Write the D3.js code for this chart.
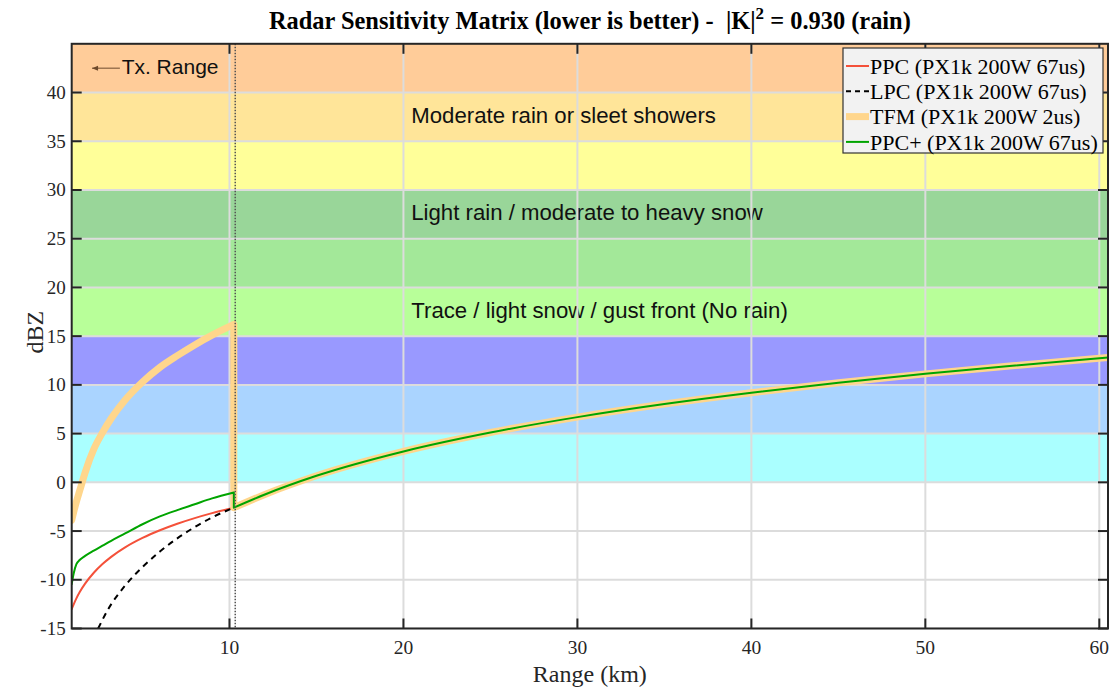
<!DOCTYPE html>
<html>
<head>
<meta charset="utf-8">
<script src="https://cdn.jsdelivr.net/npm/d3@7"></script>
<style>
  html, body { margin: 0; padding: 0; background: #fff; }
  svg { display: block; }
  .serif { font-family: "Liberation Serif", "Times New Roman", serif; }
  .sans { font-family: "Liberation Sans", Arial, sans-serif; }
</style>
</head>
<body>
<svg id="chart" width="1111" height="690"></svg>
<script>
// ---- data ----------------------------------------------------------------
// reflectivity bands (dBZ) and their fills
const bandLow    = [0, 5, 10, 15, 20, 25, 30, 35, 40];
const bandHigh   = [5, 10, 15, 20, 25, 30, 35, 40, 45];
const bandColors = ["#aaffff", "#aad4ff", "#9999ff", "#b8ff99", "#a3e899",
                    "#99d699", "#ffff99", "#ffe599", "#ffcc99"];

// band descriptions and the dBZ level they sit at
const bandLabels   = ["Moderate rain or sleet showers",
                      "Light rain / moderate to heavy snow",
                      "Trace / light snow / gust front (No rain)"];
const bandLabelDbz = [37.5, 27.5, 17.5];

// axis ticks
const xTicks = [10, 20, 30, 40, 50, 60];
const yTicks = [-15, -10, -5, 0, 5, 10, 15, 20, 25, 30, 35, 40];

// end of the short-pulse (transmit) range, km
const txRange = 10.33;

// short range segment (km) and minimum detectable dBZ per waveform
const rangeNear = [0.93, 1.05, 1.2, 1.4, 1.7, 2.2, 2.7, 3.2, 4, 5, 6, 7, 8, 9, 10.25];
const ppcNear   = [-13.0, -12.49, -11.91, -11.24, -10.4, -9.28, -8.39, -7.65, -6.68, -5.71, -4.92, -4.25, -3.67, -3.16, -2.6];
const ppcPNear  = [-10.45, -9.3, -8.4, -7.95, -7.55, -7.0, -6.5, -6.0, -5.25, -4.3, -3.5, -2.85, -2.25, -1.65, -1.05];
const tfmNear   = [-3.9, -3.0, -2.0, -0.8, 1.0, 3.4, 5.1, 6.55, 8.45, 10.3, 11.8, 13.0, 14.1, 15.1, 16.2];

// LPC (long pulse) below the transmit range
const rangeLpc = [2.45, 3, 4, 5, 6, 7, 8, 9, 10.25];
const lpcNear  = [-15.0, -13.1, -10.6, -8.7, -7.1, -5.75, -4.6, -3.6, -2.6];

// long range segment, common to all waveforms
const rangeFar = [10.25, 12, 15, 20, 25, 30, 35, 40, 45, 50, 55, 60.5];
const dbzFar   = [-2.6, -1.27, 0.67, 3.17, 5.11, 6.69, 8.03, 9.19, 10.21, 11.13, 11.96, 12.8];

// legend entries
const seriesNames = ["PPC (PX1k 200W 67us)", "LPC (PX1k 200W 67us)",
                     "TFM (PX1k 200W 2us)", "PPC+ (PX1k 200W 67us)"];

// ---- layout --------------------------------------------------------------
const L = 71.7, R = 1108, T = 43.8, B = 628.5;
const svg = d3.select("#chart");

const x = d3.scaleLinear().domain([0.93, 60.5]).range([L, R]);
const y = d3.scaleLinear().domain([-15, 45]).range([B, T]);

const styles = [
  { color: "#f4513a", width: 2,   dash: null },
  { color: "#000000", width: 2,   dash: "6,5" },
  { color: "#ffd68c", width: 7,   dash: null },
  { color: "#00a400", width: 2,   dash: null }
];

svg.append("defs").append("clipPath").attr("id", "plotClip")
  .append("rect").attr("x", L).attr("y", T).attr("width", R - L).attr("height", B - T);

const plot = svg.append("g").attr("clip-path", "url(#plotClip)");

// background bands
plot.selectAll("rect.band")
  .data(bandLow.map((lo, i) => ({ lo, hi: bandHigh[i], c: bandColors[i] })))
  .join("rect")
  .attr("class", "band")
  .attr("x", L).attr("width", R - L)
  .attr("y", d => y(d.hi)).attr("height", d => y(d.lo) - y(d.hi))
  .attr("fill", d => d.c);

// band descriptions
plot.selectAll("text.bandLabel")
  .data(bandLabels)
  .join("text")
  .attr("class", "bandLabel sans")
  .attr("x", x(20.45))
  .attr("y", (d, i) => y(bandLabelDbz[i]))
  .attr("dy", "0.27em")
  .attr("font-size", 22.2)
  .attr("fill", "#111")
  .text(d => d);

// transmit range note
const note = plot.append("g");
note.append("text").attr("class", "sans")
  .attr("x", x(3.8)).attr("y", y(42.5)).attr("dy", "0.3em")
  .attr("font-size", 21).attr("fill", "#111").text("Tx. Range");
note.append("line")
  .attr("x1", x(3.7)).attr("x2", x(2.1))
  .attr("y1", y(42.5)).attr("y2", y(42.5))
  .attr("stroke", "#6e4a2c").attr("stroke-width", 1);
note.append("path")
  .attr("d", `M${x(2.1)},${y(42.5)} l6,-2.5 l0,5 z`)
  .attr("fill", "#6e4a2c");

// grid
const grid = plot.append("g").attr("stroke", "#dcdcdc").attr("stroke-width", 2);
grid.selectAll("line.gx").data(xTicks).join("line")
  .attr("x1", d => x(d)).attr("x2", d => x(d)).attr("y1", T).attr("y2", B);
grid.selectAll("line.gy").data(yTicks).join("line")
  .attr("y1", d => y(d)).attr("y2", d => y(d)).attr("x1", L).attr("x2", R);

// curves
const line = d3.line().x(d => x(d[0])).y(d => y(d[1])).curve(d3.curveMonotoneX);
const straight = d3.line().x(d => x(d[0])).y(d => y(d[1]));
const zipPts = (xs, ys) => xs.map((v, i) => [v, ys[i]]);
const far = zipPts(rangeFar, dbzFar);

const seriesPieces = [
  [zipPts(rangeNear, ppcNear), far],
  [zipPts(rangeLpc, lpcNear), far],
  [zipPts(rangeNear, tfmNear), far],
  [zipPts(rangeNear, ppcPNear), far]
];

seriesPieces.forEach((pieces, i) => {
  const s = styles[i];
  const g = plot.append("g")
    .attr("fill", "none").attr("stroke", s.color).attr("stroke-width", s.width)
    .attr("stroke-linejoin", "round")
    .attr("stroke-linecap", s.dash ? "butt" : "round");
  if (s.dash) g.attr("stroke-dasharray", s.dash);
  const near = pieces[0], fr = pieces[1];
  const jump = [near[near.length - 1], fr[0]];
  // one continuous path: near curve, jump at the transmit range, far curve
  const d = line(near) + straight(jump).replace(/^M[^L]*/, "") + line(fr).replace(/^M[^CL]*/, "");
  g.append("path").attr("d", d);
});

// transmit range marker
plot.append("line")
  .attr("x1", x(txRange)).attr("x2", x(txRange)).attr("y1", T).attr("y2", B)
  .attr("stroke", "#555").attr("stroke-width", 1.5).attr("stroke-dasharray", "1.5,1.5");

// ---- axes ----------------------------------------------------------------
const axisColor = "#262626";
const tickLen = 10;
const axes = svg.append("g").attr("stroke", axisColor).attr("stroke-width", 2);
axes.selectAll("line.xb").data(xTicks).join("line")
  .attr("x1", d => x(d)).attr("x2", d => x(d)).attr("y1", B).attr("y2", B - tickLen);
axes.selectAll("line.xt").data(xTicks).join("line")
  .attr("x1", d => x(d)).attr("x2", d => x(d)).attr("y1", T).attr("y2", T + tickLen);
axes.selectAll("line.yl").data(yTicks).join("line")
  .attr("y1", d => y(d)).attr("y2", d => y(d)).attr("x1", L).attr("x2", L + tickLen);
axes.selectAll("line.yr").data(yTicks).join("line")
  .attr("y1", d => y(d)).attr("y2", d => y(d)).attr("x1", R).attr("x2", R - tickLen);
axes.append("rect").attr("x", L).attr("y", T).attr("width", R - L).attr("height", B - T)
  .attr("fill", "none");

svg.selectAll("text.xt").data(xTicks).join("text")
  .attr("class", "xt serif").attr("x", d => x(d)).attr("y", 654)
  .attr("text-anchor", "middle").attr("font-size", 19.5).attr("fill", "#262626")
  .text(d => d);
svg.selectAll("text.yt").data(yTicks).join("text")
  .attr("class", "yt serif").attr("x", L - 6).attr("y", d => y(d)).attr("dy", "0.34em")
  .attr("text-anchor", "end").attr("font-size", 19).attr("fill", "#262626")
  .text(d => d);

svg.append("text").attr("class", "serif")
  .attr("x", (L + R) / 2).attr("y", 682).attr("text-anchor", "middle")
  .attr("font-size", 24).attr("fill", "#262626").text("Range (km)");

svg.append("text").attr("class", "serif")
  .attr("transform", `translate(43,${(T + B) / 2 - 4}) rotate(-90)`)
  .attr("text-anchor", "middle").attr("font-size", 24).attr("fill", "#262626").text("dBZ");

// title
const title = svg.append("text").attr("class", "serif")
  .attr("x", (L + R) / 2).attr("y", 29).attr("text-anchor", "middle")
  .attr("font-size", 24.4).attr("font-weight", "bold").attr("fill", "#000")
  .style("white-space", "pre");
title.append("tspan").text("Radar Sensitivity Matrix (lower is better) -  |K|");
title.append("tspan").attr("dy", -10).attr("font-size", 17).text("2");
title.append("tspan").attr("dy", 10).text(" = 0.930 (rain)");

// legend
const lg = svg.append("g").attr("transform", "translate(843,48)");
lg.append("rect").attr("width", 260).attr("height", 105)
  .attr("fill", "#f2f2f2").attr("stroke", "#333").attr("stroke-width", 1.2);
seriesNames.forEach((name, i) => {
  const s = styles[i];
  const cy = 18 + i * 25.3;
  lg.append("line").attr("x1", 3).attr("x2", 26).attr("y1", cy).attr("y2", cy)
    .attr("stroke", s.color).attr("stroke-width", s.width)
    .attr("stroke-dasharray", s.dash ? "5,4" : null);
  lg.append("text").attr("class", "serif").attr("x", 27).attr("y", cy).attr("dy", "0.35em")
    .attr("font-size", 22).attr("fill", "#000").text(name);
});
</script>
</body>
</html>
